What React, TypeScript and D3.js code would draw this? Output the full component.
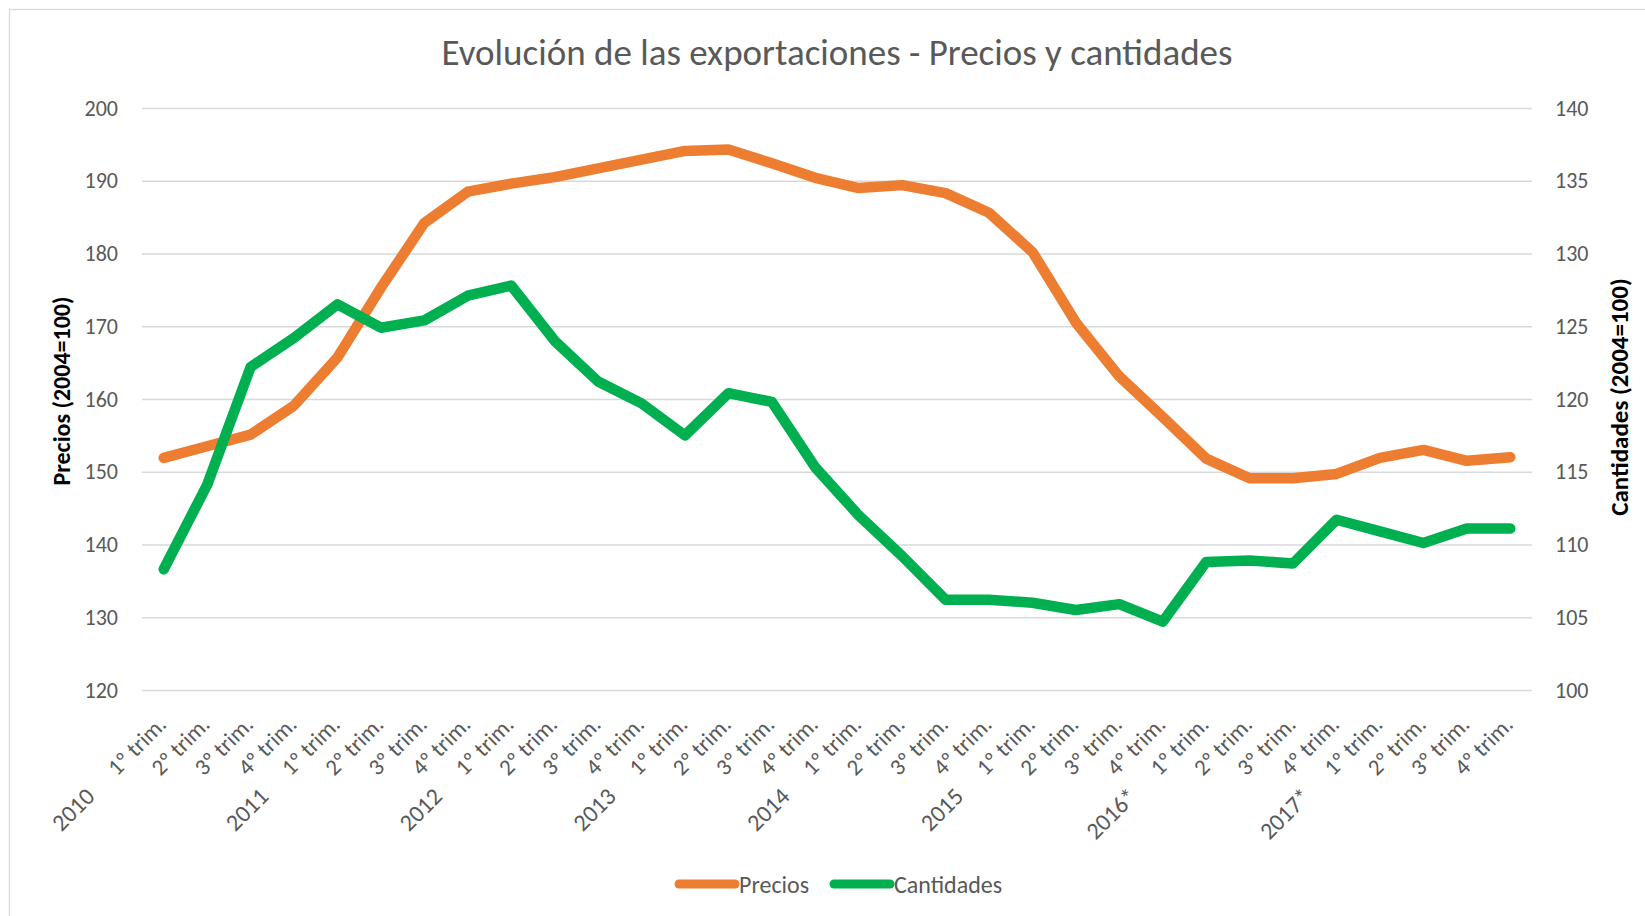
import React, { useEffect, useRef } from 'react';
import * as d3 from 'd3';

const years = ['2010', '2011', '2012', '2013', '2014', '2015', '2016*', '2017*'];
const quarters = ['1º trim.', '2º trim.', '3º trim.', '4º trim.'];

// Precios (2004=100), eje izquierdo
const precios = [
    151.9, 153.5, 155.1, 159.1, 165.7, 175.3, 184.2, 188.5,
    189.6, 190.5, 191.7, 192.9, 194.1, 194.3, 192.4, 190.4,
    189.0, 189.4, 188.3, 185.6, 180.2, 170.5, 163.1, 157.5,
    151.8, 149.1, 149.1, 149.7, 151.9, 153.0, 151.5, 152.0
];

// Cantidades (2004=100), eje derecho
const cantidades = [
    108.3, 114.1, 122.2, 124.2, 126.5, 124.9, 125.4, 127.1,
    127.8, 124.0, 121.2, 119.7, 117.5, 120.4, 119.8, 115.3,
    112.0, 109.2, 106.2, 106.2, 106.0, 105.5, 105.9, 104.7,
    108.8, 108.9, 108.7, 111.7, 110.9, 110.1, 111.1, 111.1
];

const leftTicks = [120, 130, 140, 150, 160, 170, 180, 190, 200];
const rightTicks = [100, 105, 110, 115, 120, 125, 130, 135, 140];

const W = 1645, H = 916;
const FONT = "Carlito, Lato, 'Open Sans', sans-serif";
const GREY = '#595959';
const ORANGE = '#ED7D31';
const GREEN = '#00B050';

const drawChart = (el: SVGSVGElement) => {
    const svg = d3.select(el);
    svg.selectAll('*').remove();
    svg.attr('width', W).attr('height', H).style('font-family', FONT);

    const plot = { left: 142, right: 1532, top: 108, bottom: 690 };
    const cats = d3.range(years.length * quarters.length);
    const x = d3.scaleBand<number>().domain(cats).range([plot.left, plot.right]);
    const cx = (i: number) => (x(i) as number) + x.bandwidth() / 2;
    const yL = d3.scaleLinear().domain([120, 200]).range([plot.bottom, plot.top]);
    const yR = d3.scaleLinear().domain([100, 140]).range([plot.bottom, plot.top]);

    svg.append('rect')
        .attr('x', 9.5).attr('y', 9.5)
        .attr('width', W + 20).attr('height', H + 20)
        .attr('fill', '#fff').attr('stroke', '#D9D9D9').attr('stroke-width', 1.3);

    svg.append('text')
        .attr('x', 837).attr('y', 65)
        .attr('text-anchor', 'middle')
        .attr('fill', GREY)
        .style('font-size', '37px')
        .text('Evolución de las exportaciones - Precios y cantidades');

    // left axis + gridlines
    const gl = svg.append('g')
        .attr('transform', `translate(${plot.left},0)`)
        .call(d3.axisLeft(yL).tickValues(leftTicks).tickSize(-(plot.right - plot.left)).tickPadding(24));
    gl.select('.domain').remove();
    gl.selectAll('line').attr('stroke', '#D9D9D9').attr('stroke-width', 1.3);
    gl.selectAll('text').attr('fill', GREY).style('font-size', '22px').style('font-family', FONT);

    const gr = svg.append('g')
        .attr('transform', `translate(${plot.right},0)`)
        .call(d3.axisRight(yR).tickValues(rightTicks).tickSize(0).tickPadding(23));
    gr.select('.domain').remove();
    gr.selectAll('text').attr('fill', GREY).style('font-size', '22px').style('font-family', FONT);

    // category labels
    svg.append('g').selectAll('text')
        .data(cats)
        .enter().append('text')
        .attr('transform', d => `translate(${cx(d) + 4},726) rotate(-45)`)
        .attr('text-anchor', 'end')
        .attr('fill', GREY)
        .style('font-size', '23px')
        .text(d => quarters[d % 4]);

    svg.append('g').selectAll('text')
        .data(years)
        .enter().append('text')
        .attr('transform', (d, j) => `translate(${(x(j * 4) as number) - 46},798) rotate(-45)`)
        .attr('text-anchor', 'end')
        .attr('fill', GREY)
        .style('font-size', '24px')
        .text(d => d);

    // axis titles
    svg.append('text')
        .attr('transform', 'translate(61,391) rotate(-90)')
        .attr('text-anchor', 'middle')
        .attr('dominant-baseline', 'central')
        .style('font-size', '24px').style('font-weight', 'bold')
        .text('Precios (2004=100)');

    svg.append('text')
        .attr('transform', 'translate(1619,397) rotate(-90)')
        .attr('text-anchor', 'middle')
        .attr('dominant-baseline', 'central')
        .style('font-size', '25px').style('font-weight', 'bold')
        .text('Cantidades (2004=100)');

    // series
    const series = [
        { values: precios, y: yL, color: ORANGE },
        { values: cantidades, y: yR, color: GREEN }
    ];
    series.forEach(s => {
        const line = d3.line<number>().x((d, i) => cx(i)).y(d => s.y(d));
        svg.append('path')
            .datum(s.values)
            .attr('d', line)
            .attr('fill', 'none')
            .attr('stroke', s.color)
            .attr('stroke-width', 10.5)
            .attr('stroke-linecap', 'round')
            .attr('stroke-linejoin', 'round');
    });

    // legend
    const legend = [
        { name: 'Precios', color: ORANGE, x0: 679 },
        { name: 'Cantidades', color: GREEN, x0: 834 }
    ];
    const lg = svg.append('g').selectAll('g').data(legend).enter().append('g');
    lg.append('line')
        .attr('x1', d => d.x0).attr('x2', d => d.x0 + 56)
        .attr('y1', 884).attr('y2', 884)
        .attr('stroke', d => d.color).attr('stroke-width', 9)
        .attr('stroke-linecap', 'round');
    lg.append('text')
        .attr('x', d => d.x0 + 60).attr('y', 884)
        .attr('dominant-baseline', 'central')
        .attr('fill', GREY)
        .style('font-size', '24px')
        .text(d => d.name);
};

const App = () => {
    const ref = useRef<SVGSVGElement>(null);

    useEffect(() => {
        if (ref.current) {
            drawChart(ref.current);
        }
    }, []);

    return (
        <div style={{ position: 'absolute', left: 0, top: 0, background: '#fff' }}>
            <svg ref={ref} style={{ display: 'block' }} />
        </div>
    );
};

export default App;
